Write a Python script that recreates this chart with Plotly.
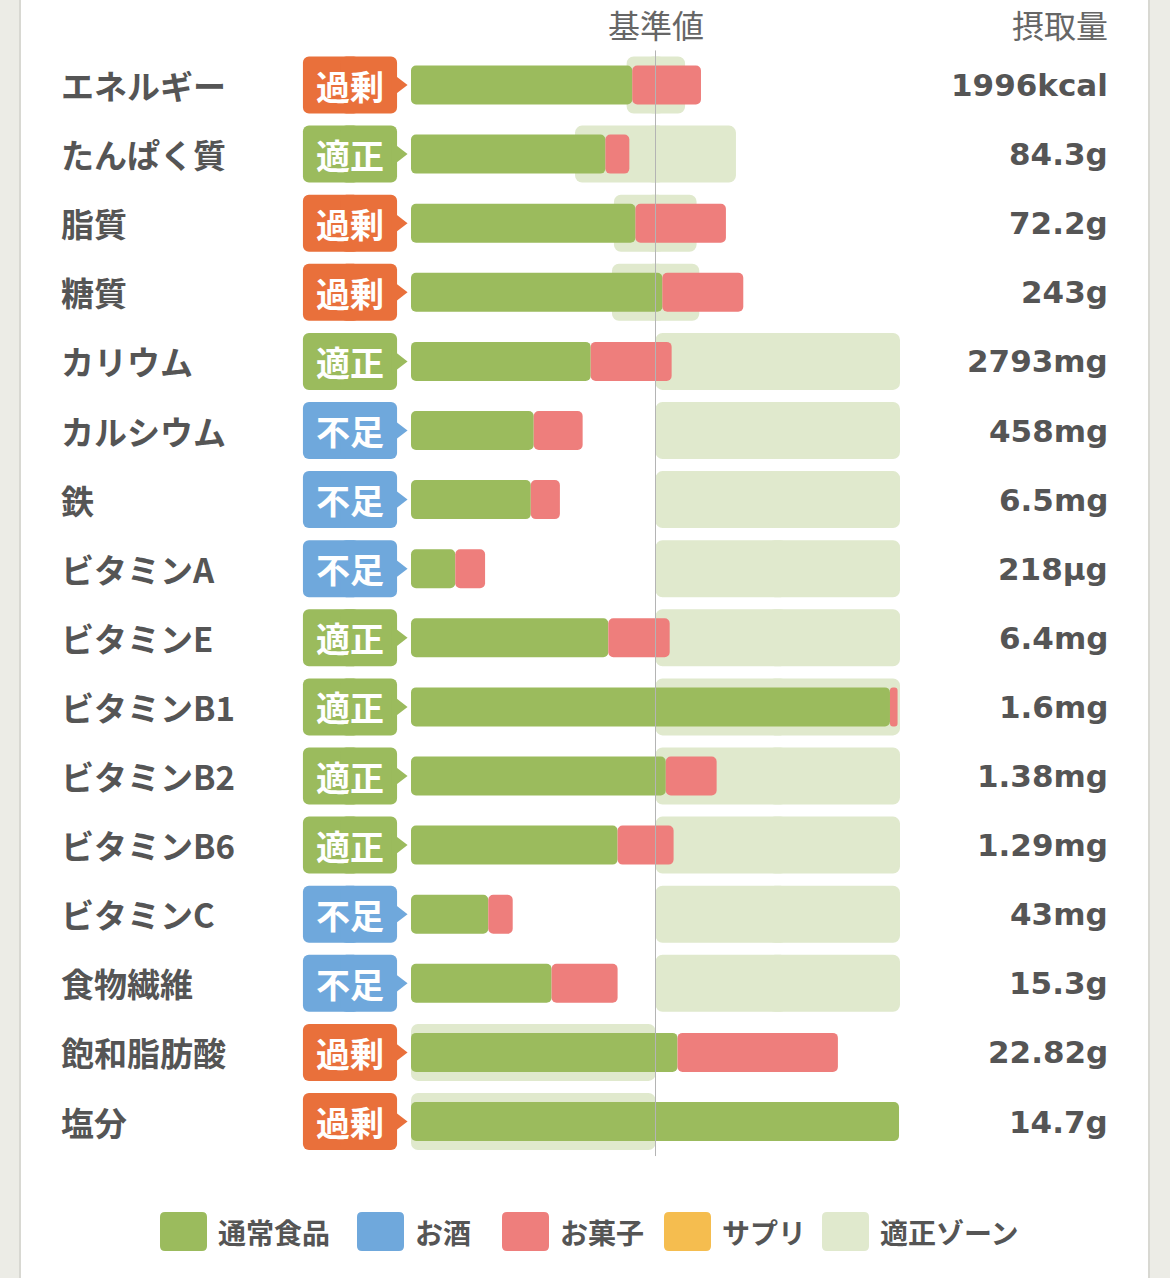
import plotly.graph_objects as go

# rows, top to bottom
nutrients = ["エネルギー", "たんぱく質", "脂質", "糖質", "カリウム", "カルシウム", "鉄",
             "ビタミンA", "ビタミンE", "ビタミンB1", "ビタミンB2", "ビタミンB6",
             "ビタミンC", "食物繊維", "飽和脂肪酸", "塩分"]
status = ["過剰", "適正", "過剰", "過剰", "適正", "不足", "不足", "不足",
          "適正", "適正", "適正", "適正", "不足", "不足", "過剰", "過剰"]
intake = ["1996kcal", "84.3g", "72.2g", "243g", "2793mg", "458mg", "6.5mg", "218µg",
          "6.4mg", "1.6mg", "1.38mg", "1.29mg", "43mg", "15.3g", "22.82g", "14.7g"]

# share of 基準値 (%) by source
food = [90.5, 79.5, 91.8, 102.8, 73.5, 50.2, 49.0, 18.1,
        80.7, 195.9, 104.2, 84.5, 31.6, 57.5, 109.0, 199.6]
alcohol = [0, 0, 0, 0, 0, 0, 0, 0, 0, 0, 0, 0, 0, 0, 0, 0]
snacks = [28.1, 9.8, 37.0, 33.1, 33.1, 20.0, 11.9, 12.2,
          25.1, 3.1, 20.8, 22.9, 10.0, 27.0, 65.6, 0]
supplement = [0, 0, 0, 0, 0, 0, 0, 0, 0, 0, 0, 0, 0, 0, 0, 0]

# 適正ゾーン (% of 基準値)
zone_low = [88.2, 67.1, 83.0, 82.2, 100, 100, 100, 100, 100, 100, 100, 100, 100, 100, 0, 0]
zone_high = [112.1, 132.9, 116.8, 117.9, 200, 200, 200, 200, 200, 200, 200, 200, 200, 200, 100, 100]

series = ["通常食品", "お酒", "お菓子", "サプリ", "適正ゾーン"]
series_colors = ["#9bbb5d", "#6fa8dc", "#ee7e7c", "#f5bd4f", "#e0e9cd"]
status_colors = {"過剰": "#e9703b", "適正": "#9bbb5d", "不足": "#6fa8dc"}

W, H = 1170, 1278
X0, PX_PCT = 411, 2.445       # pixel of 0% and pixels per 1%
Y0, ROW = 85, 69.1            # first row centre and row pitch
BADGE_L, BADGE_R = -44.2, -5.7
TEXT = "#555555"
JP = "Noto Sans CJK JP"

rows = list(range(len(nutrients)))
fig = go.Figure()


def add_rounded(lo, hi, width, color, radius, ov=4.0):
    # two overlapping halves from the middle, so both ends get rounded
    mid = [(a + b) / 2 for a, b in zip(lo, hi)]
    for end, shift in ((lo, ov), (hi, -ov)):
        base = [m + shift for m in mid]
        fig.add_trace(go.Bar(y=rows, x=[e - b for e, b in zip(end, base)], base=base,
                             orientation="h", width=width, marker_color=color,
                             marker_cornerradius=radius, marker_line_width=0,
                             hoverinfo="skip"))


add_rounded(zone_low, zone_high, 0.825, series_colors[4], 7)

# stacked intake bars
a_base = food
r_base = [f + a for f, a in zip(food, alcohol)]
s_base = [b + s for b, s in zip(r_base, snacks)]
fig.add_trace(go.Bar(y=rows, x=[-f for f in food], base=food, orientation="h", width=0.564,
                     marker_color=series_colors[0], marker_cornerradius=5, marker_line_width=0,
                     name=series[0]))
fig.add_trace(go.Bar(y=rows, x=alcohol, base=a_base, orientation="h", width=0.564,
                     marker_color=series_colors[1], marker_line_width=0, name=series[1]))
fig.add_trace(go.Bar(y=rows, x=snacks, base=r_base, orientation="h", width=0.564,
                     marker_color=series_colors[2], marker_cornerradius=5, marker_line_width=0,
                     name=series[2]))
fig.add_trace(go.Bar(y=rows, x=supplement, base=s_base, orientation="h", width=0.564,
                     marker_color=series_colors[3], marker_cornerradius=5, marker_line_width=0,
                     name=series[3]))

# status badges
badge_colors = [status_colors[s] for s in status]
add_rounded([BADGE_L] * len(rows), [BADGE_R] * len(rows), 0.825, badge_colors, 6)
fig.add_trace(go.Scatter(x=[BADGE_R] * len(rows), y=rows, mode="markers", hoverinfo="skip",
                         marker=dict(symbol="triangle-right", size=21, color=badge_colors)))

ann = []
for i in rows:
    ann.append(dict(x=(BADGE_L + BADGE_R) / 2, y=i, xref="x", yref="y", text=status[i],
                    showarrow=False, font=dict(family=JP, size=34, color="white", weight="bold")))
    ann.append(dict(x=59 / W, y=i, xref="paper", yref="y", text=nutrients[i], xanchor="left",
                    showarrow=False, font=dict(family=JP, size=33, color=TEXT, weight="bold")))
    ann.append(dict(x=1110 / W, y=i, xref="paper", yref="y", text=intake[i], xanchor="right",
                    showarrow=False, font=dict(family="DejaVu Sans", size=31, color=TEXT, weight="bold")))

ann.append(dict(x=100, y=1 - 24 / H, xref="x", yref="paper", text="基準値", showarrow=False,
                yanchor="middle", font=dict(family=JP, size=32, color="#666666")))
ann.append(dict(x=1110 / W, y=1 - 24 / H, xref="paper", yref="paper", text="摂取量",
                xanchor="right", yanchor="middle", showarrow=False,
                font=dict(family=JP, size=32, color="#666666")))


def paper_rrect(x0, y0, x1, y1, r):
    def p(x, y):
        return f"{x / W:.5f},{1 - y / H:.5f}"
    return (f"M{p(x0 + r, y0)} L{p(x1 - r, y0)} Q{p(x1, y0)} {p(x1, y0 + r)} "
            f"L{p(x1, y1 - r)} Q{p(x1, y1)} {p(x1 - r, y1)} L{p(x0 + r, y1)} "
            f"Q{p(x0, y1)} {p(x0, y1 - r)} L{p(x0, y0 + r)} Q{p(x0, y0)} {p(x0 + r, y0)} Z")


shapes = [
    dict(type="rect", xref="paper", yref="paper", x0=0, x1=19 / W, y0=0, y1=1,
         fillcolor="#ecece6", line_width=0, layer="below"),
    dict(type="rect", xref="paper", yref="paper", x0=19 / W, x1=21 / W, y0=0, y1=1,
         fillcolor="#d8d8d2", line_width=0, layer="below"),
    dict(type="rect", xref="paper", yref="paper", x0=21 / W, x1=1148 / W, y0=0, y1=1,
         fillcolor="white", line_width=0, layer="below"),
    dict(type="rect", xref="paper", yref="paper", x0=1148 / W, x1=1150 / W, y0=0, y1=1,
         fillcolor="#d8d8d2", line_width=0, layer="below"),
    dict(type="line", xref="x", yref="y", x0=100, x1=100, y0=-0.5, y1=len(rows) - 0.5,
         line=dict(color="#b4b4b4", width=1), layer="above"),
]

# legend
leg_x = [160, 357, 502, 664, 822]
for lx, name, col in zip(leg_x, series, series_colors):
    shapes.append(dict(type="path", xref="paper", yref="paper", path=paper_rrect(lx, 1212, lx + 47, 1251, 5),
                       fillcolor=col, line_width=0))
    ann.append(dict(x=(lx + 56) / W, y=1 - 1232 / H, xref="paper", yref="paper", text=name,
                    xanchor="left", yanchor="middle", showarrow=False,
                    font=dict(family=JP, size=28, color=TEXT, weight="bold")))

fig.update_layout(
    width=W, height=H, margin=dict(l=0, r=0, t=0, b=0),
    barmode="overlay", showlegend=False,
    paper_bgcolor="#ecece6", plot_bgcolor="rgba(0,0,0,0)",
    font=dict(family=JP, color=TEXT),
    xaxis=dict(range=[-X0 / PX_PCT, (W - X0) / PX_PCT], visible=False, fixedrange=True),
    yaxis=dict(range=[(H - Y0) / ROW, -Y0 / ROW], visible=False, fixedrange=True),
    shapes=shapes, annotations=ann,
)

fig.write_html("out.html", config={"displayModeBar": False},
               post_script="document.body.style.margin='0';")
